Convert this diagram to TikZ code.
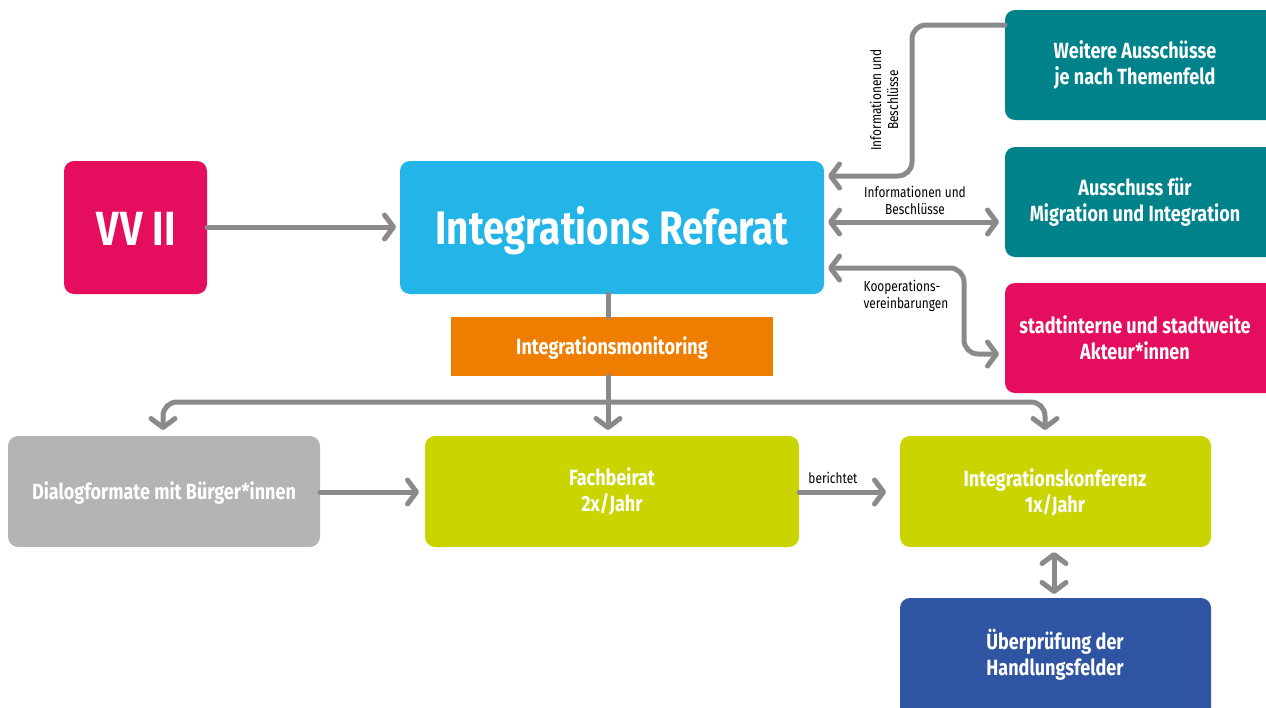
\documentclass[tikz,border=0pt]{standalone}
\usepackage{fontspec}
\setmainfont[FakeStretch=0.82]{Fira Sans}
\usetikzlibrary{arrows.meta}
\definecolor{cMag}{HTML}{E50D5E}
\definecolor{cCyan}{HTML}{23B5E8}
\definecolor{cTeal}{HTML}{00828B}
\definecolor{cOrange}{HTML}{EE7D00}
\definecolor{cGray}{HTML}{B3B4B3}
\definecolor{cLime}{HTML}{C9D400}
\definecolor{cBlue}{HTML}{2F55A2}
\definecolor{cLine}{HTML}{8A8A8A}
\tikzset{
  box/.style={rounded corners=10pt, text=white, font=\bfseries\fontsize{22}{26}\selectfont, align=center, inner sep=0pt},
  conn/.style={draw=cLine, line width=5pt, line cap=round, line join=round, rounded corners=14pt},
  tip/.style={-{Straight Barb[length=9pt,width=24pt,line width=5pt,round]}},
  tips/.style={{Straight Barb[length=9pt,width=24pt,line width=5pt,round]}-{Straight Barb[length=9pt,width=24pt,line width=5pt,round]}},
  lbl/.style={font=\fontsize{14.5}{17}\selectfont, text=black, align=center, inner sep=0pt}
}
\begin{document}
\begin{tikzpicture}[x=1pt,y=-1pt]
\useasboundingbox (0,0) rectangle (1266,707);
\begin{scope}
\clip (0,0) rectangle (1266,707);
% boxes
\fill[cMag, rounded corners=10pt] (64,161) rectangle (207,294);
\node[box, font=\bfseries\fontsize{48}{54}\selectfont] (vv) at (136,229) {V\kern2pt V II};
\fill[cCyan, rounded corners=10pt] (400,161) rectangle (824,294);
\node[box, font=\bfseries\fontsize{47}{54}\selectfont] (ref) at (612,231) {Integrations Referat};
\fill[cTeal, rounded corners=10pt] (1005,10) rectangle (1280,120);
\node[box] (wa) at (1135,65) {Weitere Ausschüsse\\je nach Themenfeld};
\fill[cTeal, rounded corners=10pt] (1005,147) rectangle (1280,257);
\node[box] (am) at (1135,202) {Ausschuss für\\Migration und Integration};
\fill[cMag, rounded corners=10pt] (1005,283) rectangle (1280,393);
\node[box] (st) at (1135,338) {stadtinterne und stadtweite\\Akteur*innen};
\fill[cOrange] (451,317) rectangle (773,376);
\node[box] (mon) at (612,348) {Integrationsmonitoring};
\fill[cGray, rounded corners=10pt] (8,436) rectangle (320,547);
\node[box] (dia) at (164,493) {Dialogformate mit Bürger*innen};
\fill[cLime, rounded corners=10pt] (425,436) rectangle (799,547);
\node[box] (fb) at (612,491) {Fachbeirat\\2x/Jahr};
\fill[cLime, rounded corners=10pt] (900,436) rectangle (1211,547);
\node[box] (ik) at (1055,492) {Integrationskonferenz\\1x/Jahr};
\fill[cBlue, rounded corners=10pt] (900,598) rectangle (1211,720);
\node[box] (up) at (1055,655) {Überprüfung der\\Handlungsfelder};
\end{scope}
% connectors
\draw[conn, tip] (207,227) -- (396,227);
\draw[conn, tip] (1005,25) -- (912,25) -- (912,176) -- (828,176);
\node[lbl, rotate=90] (l1) at (884,100) {Informationen und\\Beschlüsse};
\draw[conn, tips] (828,222) -- (999,222);
\node[lbl] (l2) at (915,200) {Informationen und\\Beschlüsse};
\draw[conn, tips] (828,268) -- (964,268) -- (964,354) -- (999,354);
\node[lbl, align=left] (l3) at (906,296) {Kooperations-\\vereinbarungen};
\draw[conn] (608,294) -- (608,317);
\draw[conn, tip] (608,376) -- (608,430);
\draw[conn, tips] (163,430) -- (163,402) -- (1045,402) -- (1045,430);
\draw[conn, tip] (320,492) -- (419,492);
\draw[conn, tip] (799,492) -- (886,492);
\node[lbl] (l4) at (833,478) {berichtet};
\draw[conn, tips] (1054,552) -- (1054,594);
\end{tikzpicture}
\end{document}
